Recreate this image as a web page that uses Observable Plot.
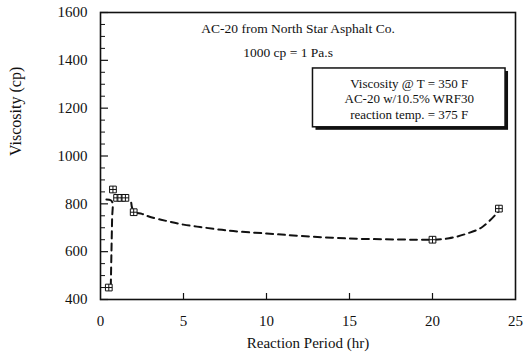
<!DOCTYPE html>
<html>
<head>
<meta charset="utf-8">
<script src="https://cdn.jsdelivr.net/npm/d3@7"></script>
<script src="https://cdn.jsdelivr.net/npm/@observablehq/plot@0.6"></script>
<style>
  html, body { margin: 0; padding: 0; background: #fff; }
  #chart svg { display: block; }
</style>
</head>
<body>
<div id="chart"></div>
<script>
// Measured points
const periodHr = [0.5, 0.75, 1.0, 1.25, 1.5, 2.0, 20, 24];
const viscosityCp = [450, 860, 825, 825, 825, 765, 650, 780];

// Dashed fitted curve, two segments
const fitSegA_x = [0.62, 0.66, 0.70, 0.72, 0.62, 0.35];
const fitSegA_y = [455, 600, 740, 805, 815, 818];
const fitSegB_x = [1.85, 2.0, 2.5, 3, 4, 5, 6, 7, 8, 10, 12, 15, 18, 20, 21, 22, 23, 24];
const fitSegB_y = [805, 768, 758, 745, 728, 713, 703, 694, 686, 676, 666, 655, 651, 650, 656, 674, 703, 770];

// Axes
const xTickLabels = [0, 5, 10, 15, 20, 25];
const xInnerTicks = [5, 10, 15, 20];
const yTickLabels = [400, 600, 800, 1000, 1200, 1400, 1600];
const yMinorTicks = d3.range(450, 1600, 50).filter(v => v % 200 !== 0);

// Annotations
const titleLines = ["AC-20 from North Star Asphalt Co.", "1000 cp = 1 Pa.s"];
const titleX = [11.9, 11.3];
const titleY = [1534, 1433];
const boxLines = ["Viscosity @ T = 350 F", "AC-20 w/10.5% WRF30", "reaction temp. = 375 F"];
const boxLineY = [1300, 1241, 1174];
const boxX = [12.8, 24.4];
const boxY = [1120, 1366];

const points = periodHr.map((x, i) => ({x, y: viscosityCp[i]}));
const segA = fitSegA_x.map((x, i) => ({x, y: fitSegA_y[i]}));
const segB = fitSegB_x.map((x, i) => ({x, y: fitSegB_y[i]}));

const W = 531, H = 358;
const mL = 100, mR = 16, mT = 12, mB = 59;
const innerW = W - mL - mR, innerH = H - mT - mB;

const boxSymbol = {
  draw(ctx, size) {
    const r = Math.sqrt(size) / 2;
    ctx.moveTo(-r, -r); ctx.lineTo(r, -r); ctx.lineTo(r, r); ctx.lineTo(-r, r); ctx.closePath();
    ctx.moveTo(-r, 0); ctx.lineTo(r, 0);
    ctx.moveTo(0, -r); ctx.lineTo(0, r);
  }
};

const font = "Liberation Serif, Times New Roman, serif";

const chart = Plot.plot({
  width: W, height: H,
  marginLeft: mL, marginRight: mR, marginTop: mT, marginBottom: mB,
  style: {fontFamily: font, fontSize: "12px", color: "#111", background: "#fff"},
  x: {domain: [0, 25]},
  y: {domain: [400, 1600]},
  marks: [
    Plot.axisX(xTickLabels, {tickSize: 0, tickPadding: 16, fontSize: 15, label: null, tickFormat: d3.format("d")}),
    Plot.axisY(yTickLabels, {tickSize: 0, tickPadding: 13, fontSize: 15, label: null, tickFormat: d3.format("d")}),
    Plot.text(["Reaction Period (hr)"], {frameAnchor: "bottom", dy: 48, fontSize: 15}),
    Plot.text(["Viscosity (cp)"], {frameAnchor: "left", dx: -85, rotate: -90, fontSize: 16}),
    Plot.ruleY(yTickLabels, {y: d => d, insetRight: innerW - 8, stroke: "#111", strokeWidth: 1.2}),
    Plot.ruleY(yMinorTicks, {y: d => d, insetRight: innerW - 5, stroke: "#111", strokeWidth: 1}),
    Plot.ruleX(xInnerTicks, {x: d => d, insetTop: innerH - 6, stroke: "#111", strokeWidth: 1.2}),
    Plot.frame({stroke: "#111", strokeWidth: 1.6}),
    Plot.line(segA, {x: "x", y: "y", stroke: "#111", strokeWidth: 2, strokeDasharray: "7,5", curve: "catmull-rom"}),
    Plot.line(segB, {x: "x", y: "y", stroke: "#111", strokeWidth: 2, strokeDasharray: "7,5", curve: "catmull-rom"}),
    Plot.dot(points, {x: "x", y: "y", symbol: boxSymbol, r: 3.8, stroke: "#111", strokeWidth: 1, fill: "white"}),
    Plot.text(titleLines, {x: (d, i) => titleX[i], y: (d, i) => titleY[i], text: d => d, fontSize: 13.5}),
    Plot.rect([0], {x1: boxX[0], x2: boxX[1], y1: boxY[0], y2: boxY[1], fill: "#111", dx: 3, dy: 3}),
    Plot.rect([0], {x1: boxX[0], x2: boxX[1], y1: boxY[0], y2: boxY[1], fill: "white", stroke: "#111", strokeWidth: 1.5}),
    Plot.text(boxLines, {x: (boxX[0] + boxX[1]) / 2, y: (d, i) => boxLineY[i], text: d => d, fontSize: 13})
  ]
});
document.getElementById("chart").appendChild(chart);
</script>
</body>
</html>
